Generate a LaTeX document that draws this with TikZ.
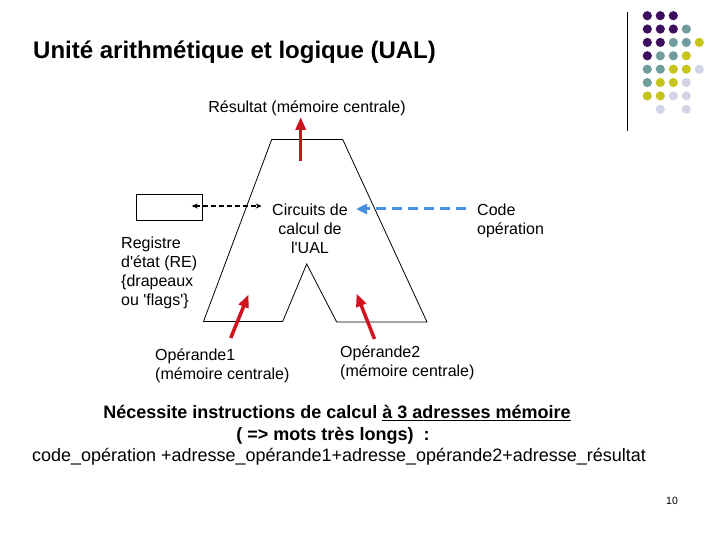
\documentclass[tikz,border=0pt]{standalone}
\usepackage{fontspec}
\setmainfont{Liberation Sans}
\usetikzlibrary{arrows.meta}
\definecolor{rouge}{RGB}{208,18,30}
\definecolor{bleu}{RGB}{74,144,226}
\definecolor{pourpre}{RGB}{62,14,94}
\definecolor{sarcelle}{RGB}{112,156,158}
\definecolor{olive}{RGB}{200,196,30}
\definecolor{lavande}{RGB}{212,212,232}
\begin{document}
\begin{tikzpicture}[x=1pt,y=-1pt,>=stealth,
	txt/.style={inner sep=0pt,align=left,font={\fontsize{16}{19}\selectfont}},
	flux/.style={rouge,line width=3.5pt,-{Triangle[length=13pt,width=10pt]}}]
		\def\q{\textquotesingle}
		\useasboundingbox (0,0) rectangle (720,540);
		%%Titre et decor
		\node[inner sep=0pt,anchor=base west,font={\fontsize{24}{28}\selectfont\bfseries}] (titre) at (33,59) {Unité arithmétique et logique (UAL)};
		\draw[line width=0.8pt] (627,12) -- (627,131);
		\foreach \i/\j/\coul in {0/0/pourpre,0/1/pourpre,0/2/pourpre,
			1/0/pourpre,1/1/pourpre,1/2/pourpre,1/3/sarcelle,
			2/0/pourpre,2/1/pourpre,2/2/sarcelle,2/3/sarcelle,2/4/olive,
			3/0/pourpre,3/1/sarcelle,3/2/sarcelle,3/3/olive,
			4/0/sarcelle,4/1/sarcelle,4/2/olive,4/3/olive,4/4/lavande,
			5/0/sarcelle,5/1/olive,5/2/olive,5/3/lavande,
			6/0/olive,6/1/olive,6/2/lavande,6/3/lavande,
			7/1/lavande,7/3/lavande}
		\fill[\coul] (647.3+13*\j,15.7+13.37*\i) circle (4.6);
		%%UAL
		\draw[line width=0.8pt] (271.7,139.5) -- (342.7,139.5) -- (427,322) -- (336.7,322)
			-- (306.7,264) -- (282.7,321.5) -- (203.5,321.5) -- cycle;
		\node[txt,anchor=base] (res) at (307,113) {Résultat (mémoire centrale)};
		\node[txt,align=center,anchor=base] (circ) at (310,253.3) {Circuits de\\calcul de\\l\q UAL};
		\node[txt,anchor=base west] (code) at (477,234) {Code\\opération};
		\node[draw,line width=0.8pt,minimum width=66.5pt,minimum height=26pt,inner sep=0pt] (re) at (169.2,207) {};
		\node[txt,anchor=base west] (reg) at (121,305.3) {Registre\\d\q état (RE)\\\{drapeaux\\ou \q flags\q\}};
		\node[txt,anchor=base west] (op1) at (155,379.7) {Opérande1\\(mémoire centrale)};
		\node[txt,anchor=base west] (op2) at (340,376) {Opérande2\\(mémoire centrale)};
		%%Fleches
		\coordinate (resA) at (300.7,160.7); \coordinate (resB) at (300.7,117);
		\coordinate (op1A) at (230.7,338); \coordinate (op1B) at (248.5,294.5);
		\coordinate (op2A) at (374.5,339); \coordinate (op2B) at (356.5,293.5);
		\coordinate (reA) at (191.7,206); \coordinate (circA) at (261.7,206);
		\coordinate (codeA) at (466,209); \coordinate (circB) at (356,209);
		\draw[flux] (resA) -- (resB);
		\draw[flux] (op1A) -- (op1B);
		\draw[flux] (op2A) -- (op2B);
		\draw[line width=1.6pt,dash pattern=on 5pt off 3pt,{Stealth[length=6pt,width=5pt]}-{Stealth[length=6pt,width=5pt]}] (reA) -- (circA);
		\draw[bleu,line width=3pt,dash pattern=on 10pt off 6pt,-{Triangle[length=11pt,width=10pt]}] (codeA) -- (circB);
		%%Remarque
		\node[inner sep=0pt,anchor=base,font={\fontsize{18}{21}\selectfont\bfseries}] (rq1) at (337,418.5) {Nécessite instructions de calcul \underline{à 3 adresses mémoire}};
		\node[inner sep=0pt,anchor=base,font={\fontsize{18}{21}\selectfont\bfseries}] (rq2) at (333,440) {( => mots très longs)\ \ :};
		\node[inner sep=0pt,anchor=base,font={\fontsize{18}{21}\selectfont}] (rq3) at (339,461) {code\_opération +adresse\_opérande1+adresse\_opérande2+adresse\_résultat};
		\node[inner sep=0pt,anchor=base,font={\fontsize{10.5}{12}\selectfont}] (num) at (672,504) {10};
	\end{tikzpicture}
\end{document}
